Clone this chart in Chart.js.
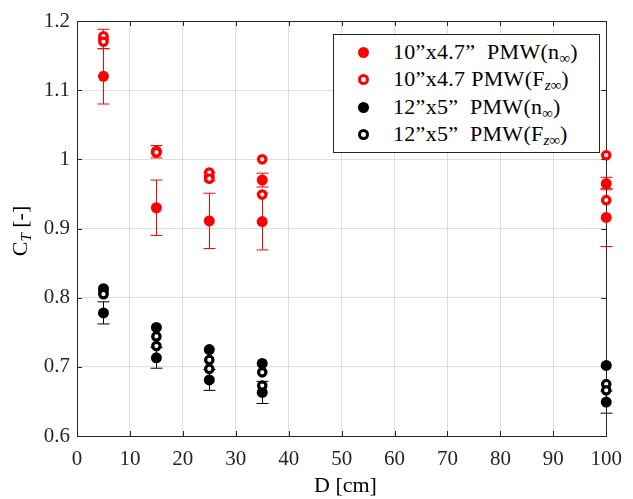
<!DOCTYPE html>
<html>
<head>
<meta charset="utf-8">
<script src="https://cdn.jsdelivr.net/npm/chart.js@4"></script>
<style>
  body{margin:0;background:#fff;}
  #wrap{position:relative;width:633px;height:499px;font-family:"Liberation Serif",serif;color:#262626;}
  #legend{position:absolute;left:333px;top:34px;width:267px;height:119px;border:1px solid #262626;background:#fff;box-sizing:border-box;}
  .row{position:absolute;left:0;height:26px;line-height:26px;font-size:22px;letter-spacing:0.3px;white-space:nowrap;color:#000;}
  .mk{position:absolute;left:24px;top:8px;width:11px;height:11px;border-radius:50%;box-sizing:border-box;}
  .row span.t{position:absolute;left:59px;top:0;}
  sub{font-size:15px;vertical-align:-4px;line-height:0;letter-spacing:0;}
  #ytitle{position:absolute;left:-25px;top:218px;width:90px;text-align:center;font-size:22px;transform:rotate(-90deg);color:#000;}
  #xtitle{position:absolute;left:77px;width:537px;top:472px;text-align:center;font-size:22px;color:#000;}
</style>
</head>
<body>
<div id="wrap">
  <canvas id="c" width="633" height="499"></canvas>
  <div id="legend">
    <div class="row" style="top:4px"><div class="mk" style="background:#f00"></div><span class="t">10”x4.7”&nbsp; PMW(n<sub>∞</sub>)</span></div>
    <div class="row" style="top:31px"><div class="mk" style="border:3px solid #f00"></div><span class="t">10”x4.7 PMW(F<sub><i>z</i>∞</sub>)</span></div>
    <div class="row" style="top:59px"><div class="mk" style="background:#000"></div><span class="t">12”x5”&nbsp; PMW(n<sub>∞</sub>)</span></div>
    <div class="row" style="top:86px"><div class="mk" style="border:3px solid #000"></div><span class="t">12”x5”&nbsp; PMW(F<sub><i>z</i>∞</sub>)</span></div>
  </div>
  <div id="ytitle">C<sub><i>T</i></sub> [-]</div>
  <div id="xtitle">D [cm]</div>
</div>
<script>
/* Data */
const xVals = [5, 15, 25, 35, 100];
const xTicks = ['0','10','20','30','40','50','60','70','80','90','100'];
const yTickLabels = ['0.6','0.7','0.8','0.9','1','1.1','1.2'];

// 10"x4.7" PMW, thrust coefficient from n_inf (two runs, with error)
const redNHi = [1.174, 1.011, 0.975, 0.970, 0.965];
const redNHiErr = [0.014, 0.009, 0.006, 0.010, 0.009];
const redNLo = [1.120, 0.930, 0.911, 0.910, 0.916];
const redNLoErr = [0.040, 0.040, 0.040, 0.041, 0.042];
// 10"x4.7 PMW, from Fz_inf
const redFHi = [1.178, 1.012, 0.981, 1.000, 1.006];
const redFLo = [1.170, 1.010, 0.972, 0.949, 0.941];

// 12"x5" PMW, from n_inf
const blackNHi = [0.813, 0.757, 0.725, 0.705, 0.702];
const blackNLo = [0.778, 0.713, 0.681, 0.663, 0.649];
const blackNLoErr = [0.016, 0.015, 0.015, 0.016, 0.016];
// 12"x5" PMW, from Fz_inf
const blackFHi = [0.808, 0.744, 0.710, 0.692, 0.675];
const blackFLo = [0.805, 0.730, 0.697, 0.673, 0.666];

const pts = (a, b) => xVals.flatMap((x, i) => [{x, y: a[i]}, {x, y: b[i]}]);

const errBars = [
  {vals: redNHi, err: redNHiErr, color: '#f00'},
  {vals: redNLo, err: redNLoErr, color: '#f00'},
  {vals: blackNLo, err: blackNLoErr, color: '#000'}
];

/* Plugins */
const errorBarPlugin = {
  id: 'errorBars',
  beforeDatasetsDraw(chart){
    const {ctx, scales:{x, y}} = chart;
    ctx.save();
    ctx.lineWidth = 1;
    errBars.forEach(s => {
      ctx.strokeStyle = s.color;
      xVals.forEach((xv, i) => {
        const px = Math.round(x.getPixelForValue(xv)) + 0.5;
        const top = y.getPixelForValue(s.vals[i] + s.err[i]);
        const bot = y.getPixelForValue(s.vals[i] - s.err[i]);
        ctx.beginPath();
        ctx.moveTo(px, top); ctx.lineTo(px, bot);
        ctx.moveTo(px - 6, top); ctx.lineTo(px + 6, top);
        ctx.moveTo(px - 6, bot); ctx.lineTo(px + 6, bot);
        ctx.stroke();
      });
    });
    ctx.restore();
  }
};

const framePlugin = {
  id: 'frame',
  beforeDatasetsDraw(chart){
    const {ctx, chartArea:a, scales:{x, y}} = chart;
    ctx.save();
    ctx.strokeStyle = '#262626';
    ctx.lineWidth = 1;
    ctx.beginPath();
    x.ticks.forEach(t => {
      const px = Math.round(x.getPixelForValue(t.value)) + 0.5;
      ctx.moveTo(px, a.bottom); ctx.lineTo(px, a.bottom - 5);
      ctx.moveTo(px, a.top); ctx.lineTo(px, a.top + 5);
    });
    y.ticks.forEach(t => {
      const py = Math.round(y.getPixelForValue(t.value)) + 0.5;
      ctx.moveTo(a.left, py); ctx.lineTo(a.left + 5, py);
      ctx.moveTo(a.right, py); ctx.lineTo(a.right - 5, py);
    });
    ctx.stroke();
    ctx.strokeRect(Math.round(a.left) + 0.5, Math.round(a.top) + 0.5,
      Math.round(a.right - a.left), Math.round(a.bottom - a.top));
    ctx.restore();
  }
};

const filled = (data, color) => ({data, backgroundColor: color, borderColor: color,
  pointRadius: 5.5, borderWidth: 0, showLine: false, clip: false, order: 2});
const open = (data, color) => ({data, backgroundColor: '#fff', borderColor: color,
  pointRadius: 3.7, borderWidth: 3.2, showLine: false, clip: false, order: 1});

new Chart(document.getElementById('c'), {
  type: 'scatter',
  data: {datasets: [
    filled(pts(redNHi, redNLo), '#f00'),
    open(pts(redFHi, redFLo), '#f00'),
    filled(pts(blackNHi, blackNLo), '#000'),
    open(pts(blackFHi, blackFLo), '#000')
  ]},
  options: {
    responsive: false,
    animation: false,
    layout: {padding: {top: 21, right: 19, left: 0, bottom: 0}},
    plugins: {legend: {display: false}, tooltip: {enabled: false}},
    scales: {
      x: {
        type: 'linear', min: 0, max: 100,
        afterFit: s => { s.height = 63; },
        border: {display: false},
        grid: {color: 'rgba(38,38,38,0.15)', drawTicks: false},
        ticks: {stepSize: 10, padding: 11, maxRotation: 0, color: '#262626',
          font: {family: 'Liberation Serif', size: 21},
          callback: (v, i) => xTicks[i]}
      },
      y: {
        min: 0.6, max: 1.2,
        afterFit: s => { s.width = 77; },
        border: {display: false},
        grid: {color: 'rgba(38,38,38,0.15)', drawTicks: false},
        ticks: {stepSize: 0.1, padding: 7, color: '#262626',
          font: {family: 'Liberation Serif', size: 21},
          callback: (v, i) => yTickLabels[i]}
      }
    }
  },
  plugins: [errorBarPlugin, framePlugin]
});
</script>
</body>
</html>
